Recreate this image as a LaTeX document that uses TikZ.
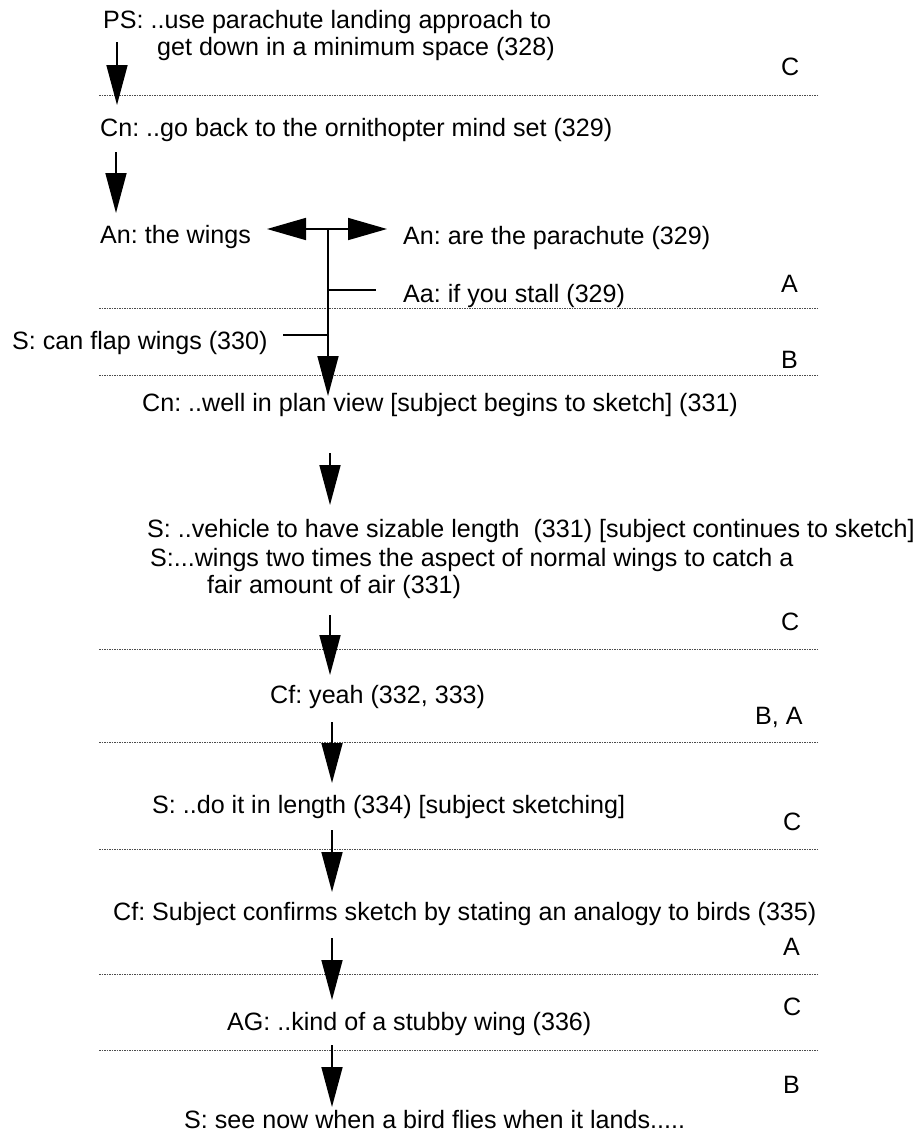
\documentclass[tikz,border=0pt]{standalone}
\usepackage{fontspec}
\setmainfont{Liberation Sans}
\usetikzlibrary{arrows.meta}
\frenchspacing
\begin{document}
\begin{tikzpicture}[x=1pt,y=-1pt,
  txt/.style={anchor=base west, inner sep=0pt, font=\fontsize{25.1}{27.5}\selectfont},
  lbl/.style={anchor=base west, inner sep=0pt, font=\fontsize{25.1}{27.5}\selectfont},
  arr/.style={line width=1.7pt, -{Triangle[length=40pt,width=21pt]}},
  darr/.style={line width=1.7pt, -{Triangle[length=39pt,width=22pt]}},
  sep/.style={line width=0.9pt, black!70, dash pattern=on 1.5pt off 1pt},
  tick/.style={line width=1.7pt}]
\useasboundingbox (0,0) rectangle (922,1136);
% texts
\node[txt] (ps1) at (103,28) {PS: ..use parachute landing approach to};
\node[txt] (ps2) at (157,55) {get down in a minimum space (328)};
\node[lbl] (l1) at (781,75) {C};
\node[txt] (cn1) at (100,136) {Cn: ..go back to the ornithopter mind set (329)};
\node[txt] (an1) at (100,243) {An: the wings};
\node[txt] (an2) at (403,244) {An: are the parachute (329)};
\node[txt] (aa) at (403,302) {Aa: if you stall (329)};
\node[lbl] (l2) at (781,292) {A};
\node[txt] (s1) at (12,349) {S: can flap wings (330)};
\node[lbl] (l3) at (781,368) {B};
\node[txt] (cn2) at (142,411) {Cn: ..well in plan view [subject begins to sketch] (331)};
\node[txt] (s2) at (147,537) {S: ..vehicle to have sizable length\ \ (331) [subject continues to sketch]};
\node[txt] (s3) at (150,566) {S:...wings two times the aspect of normal wings to catch a};
\node[txt] (s3b) at (207,593) {fair amount of air (331)};
\node[lbl] (l4) at (781,630) {C};
\node[txt] (cf1) at (270,703) {Cf: yeah (332, 333)};
\node[lbl] (l5) at (755,724) {B, A};
\node[txt] (s4) at (152,813) {S: ..do it in length (334) [subject sketching]};
\node[lbl] (l6) at (783,830) {C};
\node[txt] (cf2) at (113,920) {Cf: Subject confirms sketch by stating an analogy to birds (335)};
\node[lbl] (l7) at (783,955) {A};
\node[lbl] (l8) at (783,1015) {C};
\node[txt] (ag) at (227,1030) {AG: ..kind of a stubby wing (336)};
\node[lbl] (l9) at (783,1093) {B};
\node[txt] (s5) at (184,1128) {S: see now when a bird flies when it lands.....};
% separators
\foreach \yy in {95,308,375,649,742,849,974,1050}
  \draw[sep] (99,\yy) -- (818,\yy);
% connector coordinates
\coordinate (a1s) at (117,42);  \coordinate (a1e) at (117,105);
\coordinate (a2s) at (116,152); \coordinate (a2e) at (116,213);
\coordinate (hub) at (328,229);
\coordinate (hl) at (267,229);  \coordinate (hr) at (387,229);
\coordinate (ve) at (328,396);
\coordinate (t1) at (328,290);  \coordinate (t1e) at (376,290);
\coordinate (t2) at (328,335);  \coordinate (t2e) at (283,335);
\coordinate (a3s) at (330,453); \coordinate (a3e) at (330,505);
\coordinate (a4s) at (330,615); \coordinate (a4e) at (330,675);
\coordinate (a5s) at (332,722); \coordinate (a5e) at (332,783);
\coordinate (a6s) at (332,830); \coordinate (a6e) at (332,892);
\coordinate (a7s) at (332,938); \coordinate (a7e) at (332,1000);
\coordinate (a8s) at (332,1045);\coordinate (a8e) at (332,1107);
% connectors
\draw[arr] (a1s) -- (a1e);
\draw[arr] (a2s) -- (a2e);
\draw[darr] (hub) -- (hl);
\draw[darr] (hub) -- (hr);
\draw[arr] (hub) -- (ve);
\draw[tick] (t1) -- (t1e);
\draw[tick] (t2) -- (t2e);
\draw[arr] (a3s) -- (a3e);
\draw[arr] (a4s) -- (a4e);
\draw[arr] (a5s) -- (a5e);
\draw[arr] (a6s) -- (a6e);
\draw[arr] (a7s) -- (a7e);
\draw[arr] (a8s) -- (a8e);
\end{tikzpicture}
\end{document}
